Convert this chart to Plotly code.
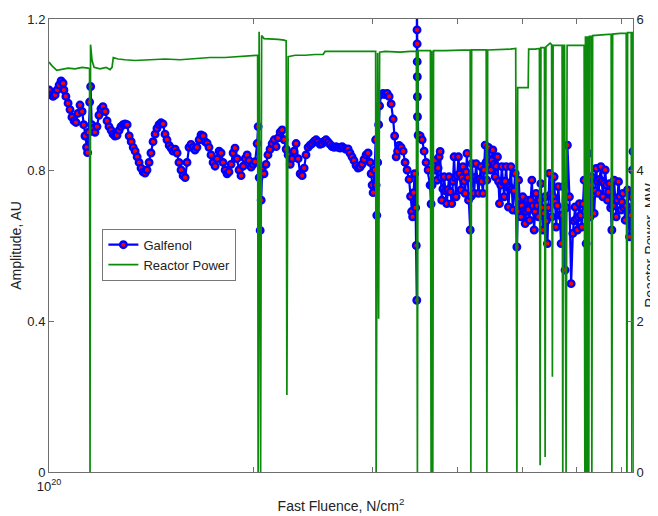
import math
import plotly.graph_objects as go

# Galfenol amplitude (AU) vs fast fluence (fluence in units of 1e20 n/cm^2)
# -- first part (1.0e20 .. 3.7e20)
galfenol_fluence_low = [
    1.000, 1.007, 1.014, 1.021, 1.028, 1.035, 1.042, 1.049, 1.052, 1.059,
    1.067, 1.074, 1.081, 1.089, 1.096, 1.103, 1.111, 1.119, 1.125, 1.130,
    1.136, 1.140, 1.144, 1.148, 1.152, 1.156, 1.162, 1.169, 1.177, 1.185,
    1.193, 1.201, 1.210, 1.218, 1.226, 1.235, 1.243, 1.251, 1.260, 1.269,
    1.277, 1.286, 1.295, 1.304, 1.313, 1.322, 1.331, 1.340, 1.349, 1.358,
    1.367, 1.377, 1.386, 1.395, 1.405, 1.414, 1.424, 1.434, 1.443, 1.453,
    1.463, 1.473, 1.483, 1.493, 1.504, 1.514, 1.524, 1.535, 1.545, 1.555,
    1.566, 1.577, 1.588, 1.598, 1.609, 1.620, 1.631, 1.642, 1.653, 1.665,
    1.676, 1.688, 1.699, 1.711, 1.722, 1.734, 1.746, 1.758, 1.770, 1.782,
    1.794, 1.806, 1.819, 1.831, 1.843, 1.856, 1.869, 1.881, 1.894, 1.907,
    1.920, 1.934, 1.947, 1.960, 1.973, 1.987, 2.000, 2.014, 2.028, 2.035,
    2.042, 2.049, 2.056, 2.063, 2.076, 2.090, 2.104, 2.119, 2.134, 2.149,
    2.163, 2.178, 2.193, 2.208, 2.223, 2.238, 2.253, 2.269, 2.284, 2.299,
    2.315, 2.331, 2.347, 2.363, 2.379, 2.394, 2.411, 2.428, 2.444, 2.461,
    2.478, 2.494, 2.511, 2.529, 2.546, 2.563, 2.581, 2.598, 2.616, 2.634,
    2.652, 2.670, 2.688, 2.706, 2.724, 2.743, 2.762, 2.780, 2.799, 2.818,
    2.838, 2.857, 2.877, 2.896, 2.916, 2.936, 2.956, 2.977, 2.987, 2.997,
    3.007, 3.023, 3.033, 3.038, 3.045, 3.054, 3.064, 3.074, 3.090, 3.111,
    3.132, 3.154, 3.175, 3.197, 3.219, 3.235, 3.252, 3.268, 3.285, 3.307,
    3.330, 3.352, 3.375, 3.398, 3.415, 3.427, 3.439, 3.451, 3.462, 3.474,
    3.482, 3.488, 3.489, 3.491, 3.492, 3.493, 3.494, 3.495, 3.496, 3.504,
    3.528, 3.552, 3.576, 3.600, 3.625, 3.649, 3.662, 3.674, 3.699,
]
galfenol_amplitude_low = [
    1.012, 0.999, 0.995, 0.999, 1.012, 1.025, 1.036, 1.030, 1.012, 0.995,
    0.977, 0.960, 0.940, 0.930, 0.926, 0.950, 0.972, 0.955, 0.920, 0.890,
    0.860, 0.846, 0.900, 0.980, 1.021, 0.920, 0.910, 0.900, 0.915, 0.945,
    0.962, 0.968, 0.955, 0.930, 0.915, 0.905, 0.895, 0.890, 0.892, 0.905,
    0.915, 0.920, 0.922, 0.920, 0.890, 0.875, 0.860, 0.850, 0.835, 0.820,
    0.805, 0.795, 0.792, 0.800, 0.820, 0.845, 0.875, 0.895, 0.910, 0.920,
    0.925, 0.922, 0.895, 0.880, 0.865, 0.858, 0.850, 0.855, 0.845, 0.820,
    0.800, 0.785, 0.780, 0.820, 0.860, 0.868, 0.860, 0.853, 0.860, 0.880,
    0.893, 0.890, 0.875, 0.871, 0.860, 0.840, 0.820, 0.810, 0.830, 0.850,
    0.845, 0.820, 0.800, 0.790, 0.795, 0.815, 0.845, 0.858, 0.830, 0.800,
    0.785, 0.810, 0.830, 0.840, 0.825, 0.808, 0.815, 0.822, 0.870, 0.915,
    0.780, 0.640, 0.720, 0.800, 0.790, 0.815, 0.840, 0.855, 0.870, 0.880,
    0.862, 0.885, 0.900, 0.906, 0.880, 0.855, 0.840, 0.815, 0.830, 0.850,
    0.870, 0.830, 0.790, 0.785, 0.805, 0.840, 0.860, 0.866, 0.870, 0.876,
    0.880, 0.875, 0.868, 0.870, 0.876, 0.880, 0.874, 0.868, 0.862, 0.860,
    0.862, 0.860, 0.858, 0.862, 0.858, 0.855, 0.856, 0.845, 0.835, 0.825,
    0.812, 0.805, 0.808, 0.815, 0.828, 0.840, 0.845, 0.820, 0.790, 0.760,
    0.740, 0.800, 0.880, 0.760, 0.680, 0.820, 0.920, 0.970, 1.000, 1.003,
    1.000, 1.003, 0.995, 0.975, 0.935, 0.890, 0.835, 0.850, 0.865, 0.860,
    0.850, 0.820, 0.800, 0.775, 0.730, 0.690, 0.676, 0.740, 0.790, 0.700,
    0.600, 0.455, 1.250, 1.171, 1.134, 1.087, 1.047, 0.994, 0.941, 0.892,
    0.890, 0.880, 0.850, 0.820, 0.800, 0.760, 0.710, 0.760, 0.810,
]
# -- second, noisier part (3.7e20 .. 7.27e20)
galfenol_fluence_high = [
    3.712, 3.725, 3.737, 3.750, 3.763, 3.776, 3.786, 3.797, 3.812, 3.827,
    3.845, 3.862, 3.877, 3.892, 3.910, 3.928, 3.944, 3.959, 3.972, 3.986,
    4.002, 4.018, 4.035, 4.052, 4.066, 4.080, 4.096, 4.112, 4.124, 4.136,
    4.147, 4.158, 4.182, 4.194, 4.206, 4.222, 4.237, 4.252, 4.266, 4.284,
    4.301, 4.318, 4.336, 4.351, 4.366, 4.383, 4.400, 4.412, 4.425, 4.437,
    4.449, 4.467, 4.485, 4.500, 4.516, 4.534, 4.552, 4.570, 4.588, 4.603,
    4.619, 4.638, 4.657, 4.675, 4.693, 4.709, 4.725, 4.743, 4.762, 4.781,
    4.801, 4.817, 4.834, 4.853, 4.872, 4.900, 4.914, 4.929, 4.948, 4.967,
    4.983, 5.000, 5.020, 5.040, 5.060, 5.080, 5.097, 5.115, 5.135, 5.156,
    5.176, 5.196, 5.213, 5.231, 5.251, 5.272, 5.294, 5.316, 5.334, 5.352,
    5.373, 5.394, 5.415, 5.436, 5.454, 5.473, 5.495, 5.517, 5.539, 5.561,
    5.580, 5.599, 5.621, 5.643, 5.669, 5.695, 5.717, 5.739, 5.772, 5.795,
    5.818, 5.858, 5.892, 5.926, 5.949, 5.972, 5.995, 6.019, 6.040, 6.060,
    6.085, 6.110, 6.134, 6.158, 6.179, 6.200, 6.224, 6.248, 6.266, 6.285,
    6.303, 6.322, 6.347, 6.372, 6.393, 6.415, 6.440, 6.465, 6.491, 6.518,
    6.540, 6.563, 6.589, 6.615, 6.641, 6.667, 6.690, 6.712, 6.739, 6.766,
    6.793, 6.820, 6.843, 6.867, 6.894, 6.921, 6.949, 6.977, 7.000, 7.024,
    7.052, 7.080, 7.108, 7.136, 7.160, 7.184, 7.214, 7.243, 7.258, 7.270,
]
galfenol_amplitude_high = [
    0.826, 0.800, 0.773, 0.805, 0.835, 0.849, 0.780, 0.720, 0.750, 0.782,
    0.745, 0.711, 0.748, 0.782, 0.742, 0.711, 0.770, 0.835, 0.780, 0.729,
    0.785, 0.835, 0.790, 0.747, 0.780, 0.809, 0.770, 0.738, 0.795, 0.844,
    0.780, 0.720, 0.641, 0.730, 0.817, 0.775, 0.738, 0.780, 0.817, 0.775,
    0.738, 0.775, 0.809, 0.770, 0.738, 0.800, 0.866, 0.820, 0.773, 0.815,
    0.860, 0.830, 0.800, 0.825, 0.853, 0.815, 0.782, 0.810, 0.835, 0.770,
    0.711, 0.760, 0.809, 0.768, 0.729, 0.770, 0.809, 0.755, 0.702, 0.755,
    0.809, 0.750, 0.694, 0.745, 0.791, 0.596, 0.690, 0.773, 0.725, 0.676,
    0.705, 0.729, 0.692, 0.658, 0.690, 0.720, 0.695, 0.667, 0.720, 0.773,
    0.705, 0.641, 0.690, 0.738, 0.705, 0.676, 0.720, 0.764, 0.700, 0.641,
    0.685, 0.729, 0.665, 0.605, 0.700, 0.791, 0.735, 0.676, 0.730, 0.782,
    0.715, 0.649, 0.705, 0.756, 0.680, 0.605, 0.680, 0.756, 0.535, 0.700,
    0.866, 0.729, 0.499, 0.632, 0.665, 0.702, 0.670, 0.641, 0.675, 0.711,
    0.680, 0.649, 0.710, 0.773, 0.690, 0.605, 0.725, 0.844, 0.760, 0.676,
    0.730, 0.782, 0.735, 0.685, 0.745, 0.804, 0.770, 0.738, 0.775, 0.809,
    0.770, 0.729, 0.765, 0.800, 0.760, 0.720, 0.742, 0.764, 0.700, 0.641,
    0.705, 0.773, 0.725, 0.676, 0.720, 0.769, 0.730, 0.694, 0.715, 0.738,
    0.700, 0.667, 0.705, 0.747, 0.685, 0.623, 0.680, 0.729, 0.800, 0.849,
]

# Reactor power (MW) vs fast fluence (units of 1e20 n/cm^2)
power_fluence = [
    1.0000, 1.0104, 1.0267, 1.0451, 1.0668, 1.0923, 1.1188, 1.1419, 1.1477, 1.1496,
    1.1516, 1.1575, 1.1655, 1.1893, 1.2138, 1.2304, 1.2388, 1.2442, 1.2643, 1.2948,
    1.3396, 1.4096, 1.4833, 1.5608, 1.6423, 1.7282, 1.8185, 1.9138, 1.9800, 2.0278,
    2.0313, 2.0347, 2.0417, 2.0521, 2.0590, 2.0764, 2.1191, 2.1779, 2.2229, 2.2382,
    2.2435, 2.2534, 2.3071, 2.3865, 2.4692, 2.5374, 2.5548, 2.6875, 2.8282, 2.9768,
    3.0330, 3.0381, 3.0536, 3.0639, 3.0742, 3.1323, 3.2956, 3.4094, 3.4859, 3.4953,
    3.5036, 3.5880, 3.6531, 3.6617, 3.6704, 3.6827, 3.6926, 3.8403, 4.0419, 4.1816,
    4.1914, 4.2025, 4.4152, 4.4256, 4.4375, 4.6305, 4.7897, 4.8808, 4.9007, 4.9139,
    5.0920, 5.1007, 5.2135, 5.2901, 5.3029, 5.3175, 5.3814, 5.3942, 5.4088, 5.4854,
    5.5134, 5.5286, 5.5420, 5.7137, 5.7271, 5.7424, 5.7620, 5.7920, 5.8120, 5.9720,
    6.1583, 6.1729, 6.1854, 6.2000, 6.2146, 6.2271, 6.2417, 6.2565, 6.2696, 6.3065,
    6.3217, 6.3391, 6.5023, 6.7500, 6.7664, 6.7850, 6.9603, 7.1044, 7.1214, 7.1383,
    7.2257, 7.2427, 7.2597, 7.2700,
]
power_mw = [
    5.43, 5.38, 5.32, 5.33, 5.35, 5.34, 5.36, 5.35, 5.34, 0.00,
    5.66, 5.45, 5.36, 5.34, 5.36, 5.33, 5.36, 5.49, 5.47, 5.46,
    5.45, 5.46, 5.47, 5.46, 5.48, 5.49, 5.49, 5.50, 5.51, 5.52,
    5.52, 0.00, 5.83, 0.00, 5.78, 5.74, 5.74, 5.73, 5.72, 5.71,
    1.02, 5.50, 5.52, 5.52, 5.53, 5.53, 5.57, 5.57, 5.57, 5.57,
    5.57, 0.00, 5.55, 2.03, 5.56, 5.57, 5.56, 5.57, 5.57, 0.00,
    5.58, 5.58, 5.58, 0.00, 5.58, 0.00, 5.58, 5.58, 5.59, 5.59,
    0.00, 5.59, 5.59, 0.00, 5.59, 5.59, 5.60, 5.61, 0.00, 5.09,
    5.09, 5.60, 5.60, 5.61, 0.09, 5.62, 5.62, 0.20, 5.63, 5.68,
    5.66, 1.26, 5.65, 5.65, 0.00, 5.65, 5.65, 0.00, 5.65, 5.65,
    5.65, 0.00, 5.77, 0.00, 5.77, 0.00, 5.77, 0.00, 5.77, 5.77,
    0.00, 5.78, 5.79, 5.80, 0.00, 5.80, 5.81, 5.81, 0.00, 5.82,
    5.82, 0.00, 5.82, 5.82,
]

x_major = [1]
x_major_text = ["10<sup>20</sup>"]
x_minor = [2, 3, 4, 5, 6, 7]
amp_ticks = [0, 0.4, 0.8, 1.2]
amp_tick_text = ["0", "0.4", "0.8", "1.2"]
power_ticks = [0, 2, 4, 6]

SCALE = 1e20
AXIS_COLOR = "#6e6e6e"
FONT = "Liberation Sans, Arial, sans-serif"

galfenol_fluence = galfenol_fluence_low + galfenol_fluence_high
galfenol_amplitude = galfenol_amplitude_low + galfenol_amplitude_high

fig = go.Figure()
fig.add_trace(go.Scatter(
    x=[f * SCALE for f in galfenol_fluence], y=galfenol_amplitude,
    mode="lines+markers", name="Galfenol",
    line=dict(color="#0000ff", width=2.2),
    marker=dict(symbol="circle", size=6.5, color="#ff0000",
                line=dict(color="#0000ff", width=2.4)),
))
fig.add_trace(go.Scatter(
    x=[f * SCALE for f in power_fluence], y=power_mw, yaxis="y2",
    mode="lines", name="Reactor Power",
    line=dict(color="#0b8a0b", width=1.7),
))

# the page body adds an 8px offset, so the figure is 8px smaller and margins compensate
fig.update_layout(
    width=650, height=508,
    margin=dict(l=41, r=25, t=11, b=44, autoexpand=False),
    paper_bgcolor="white", plot_bgcolor="white",
    font=dict(family=FONT, size=13, color="#222"),
    showlegend=True,
    legend=dict(x=0.0914, y=0.537, xanchor="left", yanchor="top",
                bgcolor="white", bordercolor="#777", borderwidth=1,
                font=dict(size=13, color="#222"), itemwidth=30,
                tracegroupgap=0),
    xaxis=dict(
        type="log", range=[20, 20 + math.log10(7.27)],
        tickvals=[t * SCALE for t in x_major], ticktext=x_major_text,
        ticks="inside", ticklen=5, tickcolor=AXIS_COLOR,
        minor=dict(tickvals=[t * SCALE for t in x_minor], ticks="inside",
                   ticklen=5, tickcolor=AXIS_COLOR, showgrid=False),
        showline=True, linecolor=AXIS_COLOR, linewidth=1, mirror="ticks",
        showgrid=False, zeroline=False, ticklabelstandoff=2, automargin=False,
        title=dict(text="Fast Fluence, N/cm<sup>2</sup>", font=dict(size=14), standoff=8),
    ),
    yaxis=dict(
        range=[0, 1.2], tickvals=amp_ticks, ticktext=amp_tick_text,
        ticks="inside", ticklen=5, tickcolor=AXIS_COLOR,
        showline=True, linecolor=AXIS_COLOR, linewidth=1,
        showgrid=False, zeroline=False, automargin=False,
        title=dict(text="Amplitude, AU", font=dict(size=14), standoff=3),
    ),
    yaxis2=dict(
        overlaying="y", side="right", range=[0, 6], tickvals=power_ticks,
        ticks="inside", ticklen=5, tickcolor=AXIS_COLOR,
        showline=True, linecolor=AXIS_COLOR, linewidth=1,
        showgrid=False, zeroline=False, automargin=False,
        title=dict(text="Reactor Power, MW", font=dict(size=14), standoff=12),
    ),
)

fig.write_html("out.html")
